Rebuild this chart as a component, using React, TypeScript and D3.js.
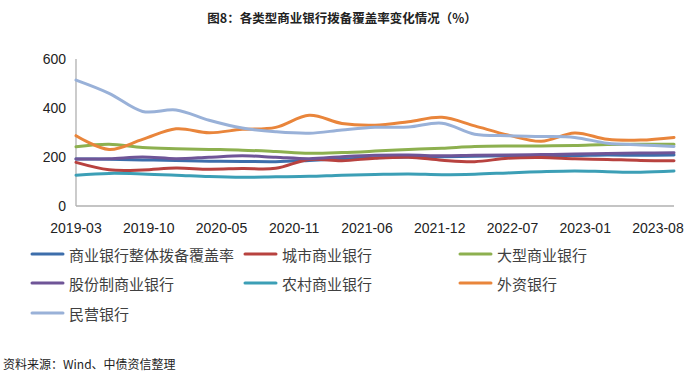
import React from "react";
import * as d3 from "d3";

const quarters = [
  "2019-03-31", "2019-06-30", "2019-09-30", "2019-12-31",
  "2020-03-31", "2020-06-30", "2020-09-30", "2020-12-31",
  "2021-03-31", "2021-06-30", "2021-09-30", "2021-12-31",
  "2022-03-31", "2022-06-30", "2022-09-30", "2022-12-31",
  "2023-03-31", "2023-06-30", "2023-09-30",
];

const overall = [192, 191, 188, 186, 183, 182, 181, 186, 192, 197, 200, 201, 203, 205, 206, 206, 208, 207, 208];
const cityBanks = [178, 148, 147, 155, 150, 153, 154, 190, 185, 195, 199, 187, 181, 195, 198, 193, 190, 186, 185];
const largeBanks = [242, 252, 239, 234, 231, 228, 222, 215, 218, 224, 231, 236, 243, 245, 245, 247, 251, 252, 252];
const jointStock = [192, 193, 200, 193, 199, 205, 199, 193, 201, 207, 208, 205, 207, 208, 210, 212, 214, 216, 217];
const ruralBanks = [126, 133, 131, 126, 120, 117, 119, 121, 126, 129, 131, 128, 130, 135, 140, 143, 140, 138, 143];
const foreignBanks = [287, 231, 272, 315, 299, 313, 321, 370, 337, 330, 344, 362, 327, 290, 264, 298, 272, 269, 280];
const privateBanks = [514, 460, 386, 392, 350, 318, 303, 297, 310, 321, 322, 338, 293, 287, 284, 280, 256, 249, 243];

const seriesNames = [
  "商业银行整体拨备覆盖率", "城市商业银行", "大型商业银行",
  "股份制商业银行", "农村商业银行", "外资银行", "民营银行",
];
const seriesValues = [overall, cityBanks, largeBanks, jointStock, ruralBanks, foreignBanks, privateBanks];
const seriesColors = ["#3d6eab", "#b8423f", "#8db04f", "#6f5597", "#3c9fb6", "#e9853b", "#99b1d8"];

const xTickLabels = ["2019-03", "2019-10", "2020-05", "2020-11", "2021-06", "2021-12", "2022-07", "2023-01", "2023-08"];
const yTicks = [0, 200, 400, 600];

const title = "图8：各类型商业银行拨备覆盖率变化情况（%）";
const source = "资料来源：Wind、中债资信整理";

const W = 700;
const H = 377;
const cjk = "'Noto Sans CJK SC', 'Noto Sans', sans-serif";

export default function App() {
  const parse = d3.timeParse("%Y-%m-%d");
  const dates = quarters.map((q) => parse(q) as Date);
  const x = d3.scaleTime().domain([dates[0], dates[dates.length - 1]]).range([76, 674]);
  const y = d3.scaleLinear().domain([0, 600]).range([206, 59]);
  const tickDates = xTickLabels.map((_, i) => d3.timeDay.offset(dates[0], 200 * i));
  const line = d3
    .line<number>()
    .x((_, i) => x(dates[i]))
    .y((v) => y(v))
    .curve(d3.curveCatmullRom.alpha(0));

  const legendCols = [32, 245, 460];
  const legendRows = [254, 283, 313];

  return (
    <div style={{ position: "fixed", left: 0, top: 0 }}>
      <svg width={W} height={H} style={{ display: "block", background: "#fff" }}>
        <text x={342} y={17} textAnchor="middle" dominantBaseline="central" fontFamily={cjk} fontWeight="bold" fontSize={12.5} fill="#222">
          {title}
        </text>
        {/* axes */}
        <line x1={76} x2={76} y1={y(600)} y2={y(0)} stroke="#b0b0b0" strokeWidth={1.3} />
        <line x1={76} x2={674} y1={y(0)} y2={y(0)} stroke="#b0b0b0" strokeWidth={1.3} />
        {yTicks.map((t) => (
          <text key={t} x={66} y={y(t)} textAnchor="end" dominantBaseline="central" fontFamily="'Liberation Sans', Arial, sans-serif" fontSize={14} fill="#222">
            {t}
          </text>
        ))}
        {xTickLabels.map((lab, i) => (
          <text key={lab} x={x(tickDates[i])} y={228} textAnchor="middle" dominantBaseline="central" fontFamily="'Liberation Sans', Arial, sans-serif" fontSize={14} fill="#222">
            {lab}
          </text>
        ))}
        {seriesValues.map((vals, i) => (
          <path key={seriesNames[i]} d={line(vals) || ""} fill="none" stroke={seriesColors[i]} strokeWidth={3} strokeLinejoin="round" strokeLinecap="round" />
        ))}
        {seriesNames.map((name, i) => {
          const cx = legendCols[i % 3];
          const cy = legendRows[Math.floor(i / 3)];
          return (
            <g key={name}>
              <line x1={cx} x2={cx + 31} y1={cy} y2={cy} stroke={seriesColors[i]} strokeWidth={3} strokeLinecap="round" />
              <text x={cx + 37} y={cy} dominantBaseline="central" fontFamily={cjk} fontSize={15} fill="#404040">
                {name}
              </text>
            </g>
          );
        })}
        <text x={3} y={363} dominantBaseline="central" fontFamily={cjk} fontSize={12} fill="#222">
          {source}
        </text>
      </svg>
    </div>
  );
}
